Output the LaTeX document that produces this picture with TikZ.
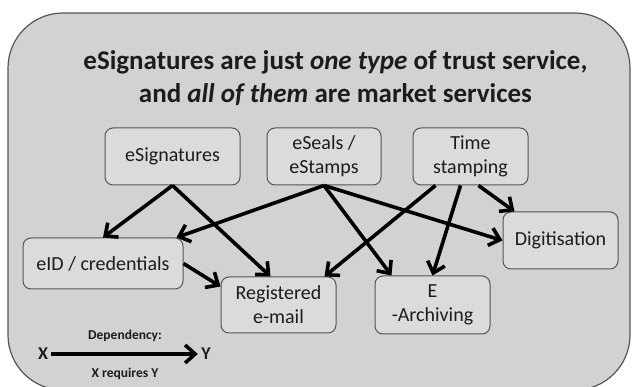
\documentclass[tikz,border=0pt]{standalone}
\usepackage{fontspec}
\setmainfont{Carlito}
\usetikzlibrary{arrows.meta}
\definecolor{panel}{HTML}{D2D2D2}
\definecolor{boxfill}{HTML}{DBDBDB}
\definecolor{rim}{HTML}{555555}
\definecolor{ink}{HTML}{1C1C1C}
\begin{document}
\begin{tikzpicture}[x=1pt, y=-1pt, text=ink,
  service/.style={draw=rim, line width=1pt, fill=boxfill, rounded corners=8pt,
    minimum width=115pt, minimum height=57pt, align=center, inner sep=2pt,
    font=\fontsize{20}{24}\selectfont},
  dep/.style={line width=3.6pt, -{Straight Barb[length=10pt, width=18pt]}},
  headline/.style={anchor=base, font=\fontsize{27}{32}\selectfont\bfseries},
  legend/.style={font=\fontsize{13.5}{16}\selectfont\bfseries}]
\useasboundingbox (0, 0) rectangle (633, 387);
\draw [draw=rim, fill=panel, line width=1.2pt, rounded corners=55pt] (8, 13) rectangle (630, 390);
% title
\node [headline] (title1) at (335.5, 70) {eSignatures are just \textit{one type} of trust service,};
\node [headline] (title2) at (335.5, 103) {and \textit{all of them} are market services};
% services
\node [service, minimum width=135pt] (esig) at (172.5, 156.5) {eSignatures};
\node [service, minimum width=114pt] (eseal) at (324, 156.5) {eSeals /\\eStamps};
\node [service] (tstamp) at (470.5, 156.5) {Time\\stamping};
\node [service] (digit) at (560.5, 240.5) {Digitisation};
\node [service, minimum width=160pt, minimum height=51pt] (eid) at (103, 263.5) {eID / credentials};
\node [service, minimum height=56pt] (regmail) at (278.5, 305) {Registered\\e-mail};
\node [service, minimum height=58pt] (earch) at (432.5, 305) {E\\-Archiving};
% dependencies
\draw [dep] (esig.south) -- (eid.north);
\draw [dep] (esig.south) -- ([xshift=-8pt]regmail.north);
\draw [dep] (eseal.south) -- ([xshift=-7pt]eid.north east);
\draw [dep] (eseal.south) -- ([xshift=17pt]earch.north west);
\draw [dep] (eseal.south) -- (digit.west);
\draw [dep] ([xshift=23pt]tstamp.south west) -- ([xshift=-12pt]regmail.north east);
\draw [dep] ([xshift=-10pt]tstamp.south) -- (earch.north);
\draw [dep] ([xshift=8pt]tstamp.south) -- ([xshift=12pt]digit.north west);
\draw [dep] (eid.east) -- ([yshift=-10pt]regmail.north west);
% legend
\node [legend] (deplabel) at (125, 336) {Dependency:};
\node [legend, font=\fontsize{18}{20}\selectfont\bfseries] (legx) at (43, 354) {X};
\node [legend, font=\fontsize{18}{20}\selectfont\bfseries] (legy) at (206, 354) {Y};
\draw [dep] (legx) -- (legy);
\node [legend] (reqlabel) at (125, 374) {X requires Y};
\end{tikzpicture}
\end{document}
